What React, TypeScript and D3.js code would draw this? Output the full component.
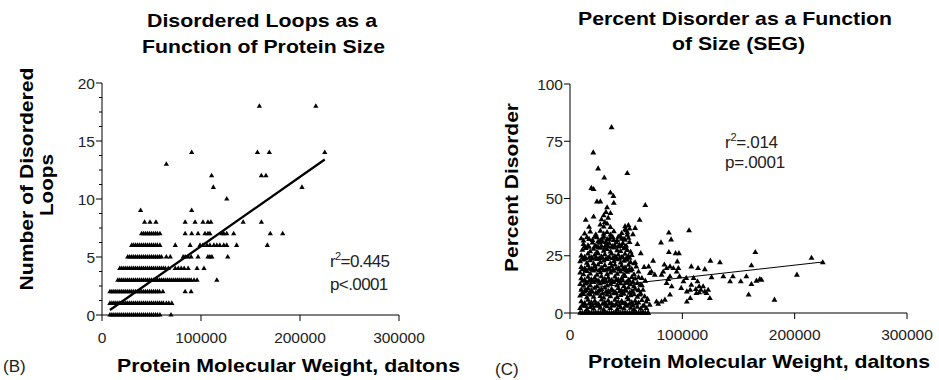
import React from 'react';
import * as d3 from 'd3';

// ---------- Panel B data: molecular weight (kDa) per number of disordered loops ----------
const loops0 = [8,10,12,14,16,18,20,22,24,26,28,30,32,34,36,38,40,42,44,46,48,50,52,54,56,58.5,69.7];
const loops1 = [8,10,12,14,16,18,20,22,24,26,28,30,32,34,36,38,40,42,44,46,48,50,52,54,56,58,60,62,65,67.5,70.5];
const loops2 = [8,10,12,14,16,18,20,22,24,26,28,30,32,34,36,38,40,42,44,46,48,50,52,54,56,58,61.5,84,90];
const loops3 = [16,18,20,22,24,26,28,30,32,34,36,38,40,42,44,46,48,50,52,54,56,58,60,62,64,66,68,70,72,74,76,78,80,82,84,86,88,90,93,96,116];
const loops4 = [18,20,22,24,26,28,30,32,34,36,38,40,42,44,46,48,50,52,54,56,58,60,62,64,67,74,77,80,83,87,96,103];
const loops5 = [26,28,30,32,34,36,38,40,42,44,46,48,50,52,54,56,58,60,65,69,82,84,87,90,97,107,109,111,127];
const loops6 = [30,32,34,36,38,40,42,44,46,48,50,52,54,56,58.5,74,89,99,102,106,109,113,116,119,123,126,136,167];
const loops7 = [40,42,44,46,48,50,52,54,56,58.5,84,90.6,97,104,107,109,121,123,126,133,170,182.5];
const loops8 = [43,48.5,54.5,84,94,102,107,110,142.6,161];
const loops9 = [39,90.6];
const loops10 = [126];
const loops11 = [112.5,202];
const loops12 = [110.7,161,165.6];
const loops13 = [65];
const loops14 = [90.6,157,169,225];
const loops18 = [159,216];
const loopRows: [number, number[]][] = [
  [0, loops0],[1, loops1],[2, loops2],[3, loops3],[4, loops4],[5, loops5],[6, loops6],[7, loops7],
  [8, loops8],[9, loops9],[10, loops10],[11, loops11],[12, loops12],[13, loops13],[14, loops14],[18, loops18],
];
const loopFit = { intercept: -0.05, slope: 5.98e-5, from: 8000, to: 225000 };

// ---------- Panel C data: [molecular weight kDa, percent disorder] ----------
const segZero = [9,11,13,15,17,19,21,23,25,27,29,31,33,35,37,39,41,43,45,47,49,51,53,55,57,59,61,63,65,67,69.5];
const segLow: [number, number][] = [
  [9,2],[12,3],[15,1.5],[18,2.5],[21,1.8],[24,3],[27,2.2],[30,1.4],[33,2.8],[36,2],[39,3.2],[42,1.6],[45,2.4],[48,1.9],[51,3],[54,2.2],[57,1.5],[60,2.6],[63,1.8],[66,3.1],
  [10,5],[13,4.2],[16,5.6],[19,4.6],[22,5.2],[25,4],[28,5.8],[31,4.5],[34,5.3],[37,4.1],[40,5.7],[43,4.8],[46,5.1],[49,4.3],[52,5.9],[55,4.6],[58,5.2],[61,4.4],[64,5.5],
  [9,7.5],[12,8.2],[15,6.8],[18,7.9],[21,7],[24,8.4],[27,7.3],[30,6.6],[33,8],[36,7.2],[39,8.5],[42,6.9],[45,7.7],[48,8.3],[51,6.7],[54,7.6],[57,8.1],[60,7],[63,8.4],
  [10,10],[13,9.3],[16,10.6],[19,9.6],[22,10.9],[25,9.2],[28,10.3],[31,11],[34,9.5],[37,10.4],[40,9.1],[43,10.8],[46,9.7],[49,10.2],[52,11],[55,9.4],[58,10.5],[61,9.8],
  [9,12.5],[12,11.8],[15,13.2],[18,12.1],[21,13.4],[24,11.6],[27,12.8],[30,13.3],[33,11.9],[36,12.6],[39,13.5],[42,12],[45,12.9],[48,11.7],[51,13.1],[54,12.4],[57,11.6],[60,13],
];
const segMid: [number, number][] = [
  [10,15],[13,14.3],[16,15.7],[19,14.6],[22,15.3],[25,14.1],[28,15.9],[31,14.8],[34,15.4],[37,14.2],[40,15.8],[43,14.5],[46,15.1],[49,16],[52,14.4],[55,15.6],[58,14.9],[61,15.5],
  [9,17.5],[12,16.8],[15,18.2],[18,17.1],[21,18.4],[24,16.6],[27,17.7],[30,18.5],[33,16.9],[36,17.6],[39,18.3],[42,17],[45,18],[48,16.7],[51,17.9],[54,18.4],[57,16.8],
  [10,20],[13,19.4],[16,20.7],[19,19.2],[22,20.4],[25,21],[28,19.6],[31,20.8],[34,19.3],[37,20.3],[40,21],[43,19.5],[46,20.6],[49,19.8],[52,20.9],[55,19.1],[59,20.2],
  [9,22.5],[12,23.2],[15,21.8],[18,22.9],[21,21.6],[24,23.4],[27,22.1],[30,22.8],[33,23.5],[36,21.7],[39,22.6],[42,23.3],[45,21.9],[48,22.7],[51,23.1],[54,22],[57,21.6],
  [10,25],[13,24.4],[16,25.8],[19,24.2],[22,25.3],[25,26],[28,24.6],[31,25.5],[34,24.1],[37,25.9],[40,24.7],[43,25.4],[46,24.3],[49,25.7],[52,24.8],[55,25.2],
];
const segHigh: [number, number][] = [
  [11,27.5],[14,28.3],[18,26.8],[21,27.9],[24,26.6],[27,28.4],[30,27.1],[33,27.8],[36,26.7],[39,28.5],[42,27.3],[45,26.9],[48,28.1],[51,27.4],[54,26.6],
  [12,30],[16,29.4],[20,30.7],[23,29.2],[26,30.5],[29,31],[32,29.6],[35,30.3],[38,29.1],[41,30.8],[44,29.7],[47,30.4],[50,29.3],[53,30.9],
  [10,32.5],[15,33],[20,31.8],[24,32.9],[27,31.6],[30,33.4],[33,32.1],[36,32.8],[39,31.7],[43,33.2],[46,32.3],[49,31.9],[52,32.7],
  [13,34.6],[18,35.5],[23,34.2],[27,35.8],[30,34.5],[33,35.2],[36,34.1],[39,35.6],[46,34.8],[49,36.4],[51,35.1],[53,36.8],[56,34.3],
  [17,37.5],[27,38.5],[30,37.6],[33,38.9],[36,37.4],[49,37.8],[52,38.3],
  [28,40.8],[30,42.5],[32,44],[34,41.5],[36,43.5],[33,46],[31,39.6],
];
const segFill: [number, number][] = [
  [11,3.5],[14,3],[17,4],[20,3.3],[23,4.1],[26,3.2],[29,3.9],[32,3.4],[35,4],[38,3.1],[41,3.8],[44,3.3],[47,4.2],[50,3.5],[53,3.9],[56,3.2],[59,4],
  [11,8.7],[14,9.9],[17,8.6],[20,9.1],[23,8.8],[26,9.8],[29,8.5],[32,9.2],[35,8.9],[38,9.7],[41,8.6],[44,9.4],[47,8.8],[50,9.6],[53,8.7],[56,9.2],
  [11,13.9],[14,12.7],[17,14],[20,13.6],[23,14.1],[26,13.5],[29,14.2],[32,13.7],[35,14],[38,13.4],[41,14.3],[44,13.6],[47,14.1],[50,13.3],[53,14],[56,13.5],
  [11,19],[14,18.7],[17,19.3],[20,18.9],[23,19.1],[26,18.6],[29,19.4],[32,18.8],[35,19.2],[38,18.6],[41,19.3],[44,18.9],[47,19.1],[50,18.7],[53,19.2],
  [11,24],[14,23.8],[17,24.1],[20,23.7],[23,24.2],[26,23.8],[29,24],[32,23.6],[35,24.3],[38,23.9],[41,24.1],[44,23.7],[47,24.2],[50,23.8],[53,24],
  [13,29],[17,28.8],[22,29.1],[25,28.7],[28,29.2],[31,28.6],[34,29],[37,28.8],[40,29.3],[43,28.9],[46,29.1],[49,28.7],
  [12,31.5],[17,32.2],[22,33.3],[25,31.2],[29,32.7],[32,30.9],[35,32],[38,33.1],[42,31.6],[45,33.4],[48,32.3],[51,34],
];
const segEdge: [number, number][] = [
  [58,22],[61,18],[63,26],[60,30],[64,12],[66,20],[62,8],[65,3],[67,14],[69,6],[58,37],[50,36],
  [61,10],[62.5,12.2],[64,15.2],[65,10],[66.5,7.1],[68,4.9],[68,2],[69.5,0],[65,0],
  [70,20.2],[71,17.3],[72.5,18],[75.5,16.6],[71,3.5],[77,4.9],[78.5,3.9],[81.5,4.9],[84.5,5.7],
];
const segOutliers: [number, number][] = [
  [37,81],[20.7,70],[25,63],[30.5,59],[51,61],[19,54.5],[21,54],[36,52.5],[38.6,51],[24,48.6],[27,48.6],
  [39,48],[67,47],[14,40.6],[21,42],[62,40.6],[106,36],[88,35],[90,32],[81,30.7],[88,26.5],[94,26],[97,26],
  [165,26.5],[215,24],[225,22],[125,22.7],[133.5,22],[74,22.7],[84,21],[95.5,22.4],[161.5,20.7],[108,20.2],
  [114,19.5],[120,19],[202,16.6],[145,15.9],[157,15.9],[110,15.2],[126,15.5],[136.5,15.9],[169,14.7],
  [170.5,14.4],[166,14],[161.5,12.5],[142.5,13.7],[152,13.7],[159,7.9],[182,5.7],[124.5,6.4],
  [104,9.3],[107,10],[112,10.3],[115,8.9],[104,4.9],[107,6.4],[99,10.8],[101,13.7],[103.5,15.2],[108,12.2],
  [89,7.9],[90.5,11.5],[86,13],[87.5,14.7],[89,15.9],[83,18],[81.5,16.6],[86,19.5],[89,20.2],[92,19.5],
  [95,18],[97.5,15.9],[96.5,19.5],[118.5,11.5],[120,9.3],[121.5,8.6],[123,10],[113.5,13.7],[115,11.5],
  [116.5,10],[112.5,8.6],
];
const segFit = { intercept: 9.9, slope: 5.5e-5, from: 8000, to: 225000 };

// ---------- Axes ----------
const mwTicks = [0, 100000, 200000, 300000];
const loopTicks = [0, 5, 10, 15, 20];
const loopMinorTicks = [1.25, 2.5, 3.75, 6.25, 7.5, 8.75, 11.25, 12.5, 13.75, 16.25, 17.5, 18.75];
const pctTicks = [0, 25, 50, 75, 100];

const FONT = '"Liberation Sans", Arial, Helvetica, sans-serif';

const xB = d3.scaleLinear().domain([0, 300000]).range([102, 399]);
const yB = d3.scaleLinear().domain([0, 20]).range([315, 83]);
const xC = d3.scaleLinear().domain([0, 300000]).range([570, 907]);
const yC = d3.scaleLinear().domain([0, 100]).range([313, 84]);

const triB = d3.symbol(d3.symbolTriangle, 12)() as string;
const triC = d3.symbol(d3.symbolTriangle, 15)() as string;

function Axes({ x, y, yTicks, minor, xLabelY }: any) {
  const [x0, x1] = x.range();
  const [y0, y1] = y.range();
  return (
    <g fontFamily={FONT} fontSize={15.5} fill="#222">
      <line x1={x0} x2={x0} y1={y0} y2={y1} stroke="#000" strokeWidth={1} />
      <line x1={x0} x2={x1} y1={y0} y2={y0} stroke="#000" strokeWidth={1} />
      {yTicks.map((t: number) => (
        <g key={'y' + t}>
          <line x1={x0 - 6} x2={x0} y1={y(t)} y2={y(t)} stroke="#000" />
          <text x={x0 - 7} y={y(t)} dy="0.36em" textAnchor="end">{t}</text>
        </g>
      ))}
      {(minor || []).map((t: number) => (
        <line key={'m' + t} x1={x0 - 3} x2={x0} y1={y(t)} y2={y(t)} stroke="#000" />
      ))}
      {mwTicks.map((t) => (
        <g key={'x' + t}>
          <line x1={x(t)} x2={x(t)} y1={y0} y2={y0 + 6} stroke="#000" />
          <text x={x(t)} y={xLabelY} textAnchor="middle">{t}</text>
        </g>
      ))}
    </g>
  );
}

export default function App() {
  const bPts: [number, number][] = [];
  loopRows.forEach(([n, xs]) => xs.forEach((m) => bPts.push([m * 1000, n])));
  const cPts: [number, number][] = [
    ...segZero.map((m) => [m, 0] as [number, number]),
    ...segLow, ...segMid, ...segHigh, ...segFill, ...segEdge, ...segOutliers,
  ].map(([m, p]) => [m * 1000, p]);

  const fitLine = (fit: any, x: any, y: any) =>
    d3.line<number>().x((m) => x(m)).y((m) => y(fit.intercept + fit.slope * m))([fit.from, fit.to]) as string;

  return (
    <svg width={939} height={380} style={{ position: 'absolute', left: 0, top: 0, background: '#fff' }}>
      <rect width={939} height={380} fill="#fff" />
      {/* ---------- Panel B ---------- */}
      <g fontFamily={FONT} fontWeight="bold" fill="#000">
        <text x={262} y={27} fontSize={19} textAnchor="middle" textLength={230} lengthAdjust="spacingAndGlyphs">Disordered Loops as a</text>
        <text x={263.5} y={52.5} fontSize={19} textAnchor="middle" textLength={243} lengthAdjust="spacingAndGlyphs">Function of Protein Size</text>
        <text transform="translate(33,179) rotate(-90)" fontSize={19} textAnchor="middle" textLength={223} lengthAdjust="spacingAndGlyphs">Number of Disordered</text>
        <text transform="translate(53,185) rotate(-90)" fontSize={19} textAnchor="middle" textLength={62} lengthAdjust="spacingAndGlyphs">Loops</text>
        <text x={288.5} y={372} fontSize={19} textAnchor="middle" textLength={343} lengthAdjust="spacingAndGlyphs">Protein Molecular Weight, daltons</text>
      </g>
      <text x={3} y={372} fontFamily={FONT} fontSize={17} fill="#222">(B)</text>
      <Axes x={xB} y={yB} yTicks={loopTicks} minor={loopMinorTicks} xLabelY={343} />
      <g fill="#000">
        {bPts.map(([m, n], i) => (
          <path key={i} d={triB} transform={`translate(${xB(m)},${yB(n)})`} />
        ))}
      </g>
      <path d={fitLine(loopFit, xB, yB)} stroke="#000" strokeWidth={2.3} fill="none" />
      <g fontFamily={FONT} fontSize={17} fill="#222" letterSpacing={-0.6}>
        <text x={330} y={267}>r<tspan dy={-7} fontSize={11}>2</tspan><tspan dy={7}>=0.445</tspan></text>
        <text x={330} y={290}>p&lt;.0001</text>
      </g>

      {/* ---------- Panel C ---------- */}
      <g fontFamily={FONT} fontWeight="bold" fill="#000">
        <text x={735} y={25} fontSize={19} textAnchor="middle" textLength={314} lengthAdjust="spacingAndGlyphs">Percent Disorder as a Function</text>
        <text x={738.5} y={50} fontSize={19} textAnchor="middle" textLength={133} lengthAdjust="spacingAndGlyphs">of Size (SEG)</text>
        <text transform="translate(518,187.5) rotate(-90)" fontSize={19} textAnchor="middle" textLength={169} lengthAdjust="spacingAndGlyphs">Percent Disorder</text>
        <text x={759} y={368} fontSize={19} textAnchor="middle" textLength={342} lengthAdjust="spacingAndGlyphs">Protein Molecular Weight, daltons</text>
      </g>
      <text x={495} y={375} fontFamily={FONT} fontSize={17} fill="#222">(C)</text>
      <path d={fitLine(segFit, xC, yC)} stroke="#000" strokeWidth={1} fill="none" />
      <Axes x={xC} y={yC} yTicks={pctTicks} xLabelY={340} />
      <g fill="#000">
        {cPts.map(([m, p], i) => (
          <path key={i} d={triC} transform={`translate(${xC(m)},${yC(p)})`} />
        ))}
      </g>
      <g fontFamily={FONT} fontSize={17} fill="#222" letterSpacing={-0.3}>
        <text x={725} y={148}>r<tspan dy={-7} fontSize={11}>2</tspan><tspan dy={7}>=.014</tspan></text>
        <text x={725} y={168}>p=.0001</text>
      </g>
    </svg>
  );
}
